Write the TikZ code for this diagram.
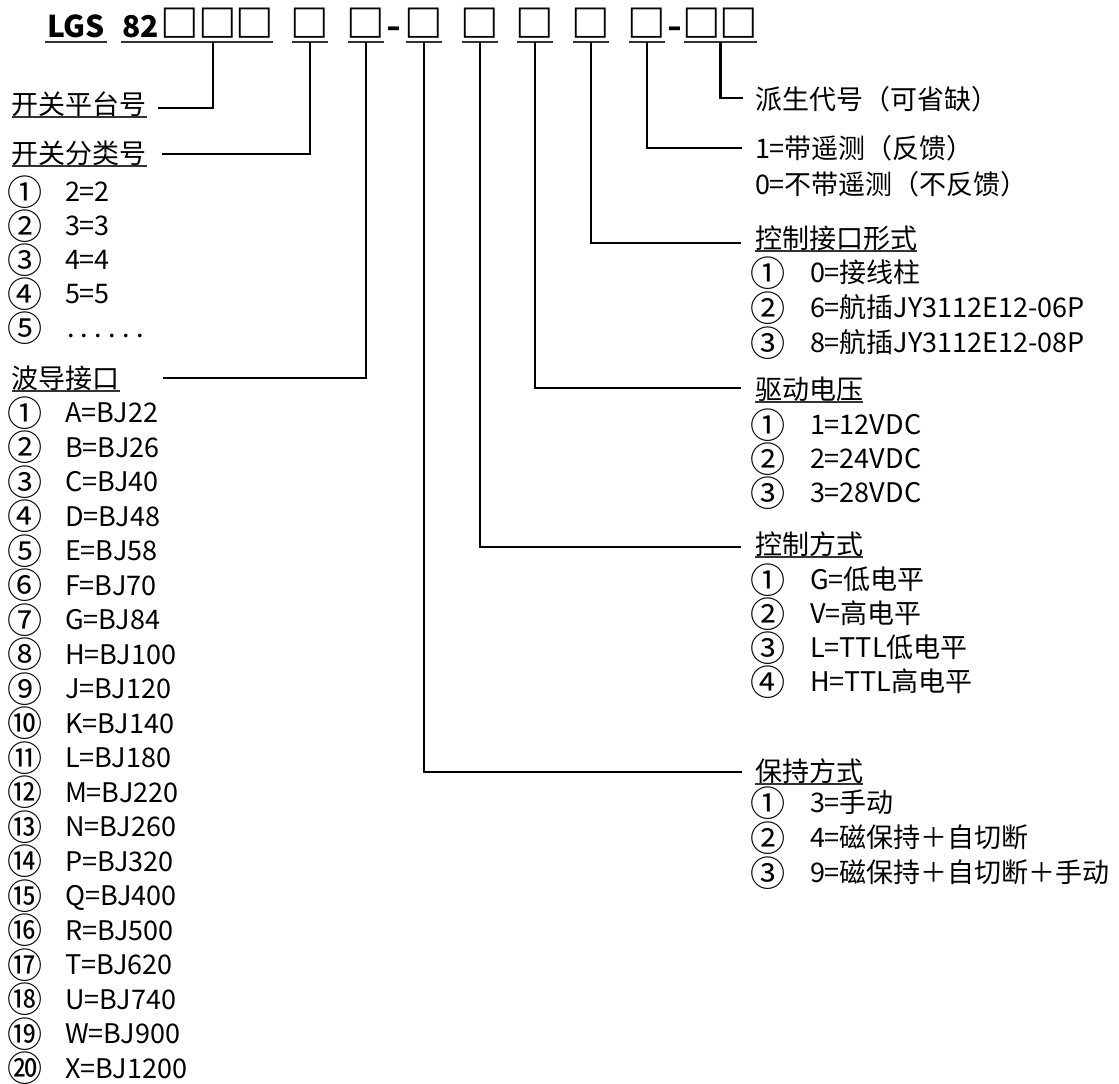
\documentclass[tikz,border=0pt]{standalone}
\usepackage{fontspec}
\setmainfont{Noto Sans CJK SC}
\usetikzlibrary{calc}
\begin{document}
\begin{tikzpicture}[x=1pt,y=-1pt,
  every node/.style={inner sep=0pt,outer sep=0pt},
  body/.style={font=\fontsize{27}{27}\selectfont},
  lbl/.style={body,anchor=base west},
  circ/.style={body,anchor=center},
  ttl/.style={font=\fontsize{30}{30}\selectfont\bfseries,anchor=base west},
  bx/.style={font=\fontsize{36}{36}\selectfont\bfseries,anchor=base,text depth=5pt},
  conn/.style={line width=2.6pt},
  ul/.style={line width=1.5pt,draw=black!80}]
\useasboundingbox (0,0) rectangle (1119,1084);
\newcommand\cnum[1]{\scalebox{1.3}{#1}}
% ---------- header code ----------
\node[ttl] (lgs) at (47,37) {LGS};
\node[ttl] (n82) at (122,37) {82};
\foreach \n/\x in {1/180,2/218,3/255,4/310,5/366,6/424,7/480,8/535,9/591,10/647,11/702,12/739}
  \node[bx] (b\n) at (\x,37) {\makebox[30pt]{\scalebox{1.07}[1.05]{□}}};
\node[ttl,anchor=base] (d1) at (394,37) {\scalebox{1.3}[1]{-}};
\node[ttl,anchor=base] (d2) at (675,37) {\scalebox{1.3}[1]{-}};
\draw[ul] ([xshift=-2pt,yshift=-5pt]lgs.base west) -- ([xshift=2pt,yshift=-5pt]lgs.base east);
\draw[ul] ([xshift=-1pt,yshift=-5pt]n82.base west) -- ([xshift=3pt,yshift=-5pt]b3.base east);
\foreach \n in {4,5,6,7,8,9,10}
  \draw[ul] ([xshift=-3pt,yshift=-5pt]b\n.base west) -- ([xshift=3pt,yshift=-5pt]b\n.base east);
\draw[ul] ([xshift=-3pt,yshift=-5pt]b11.base west) -- ([xshift=3pt,yshift=-5pt]b12.base east);
% ---------- left labels ----------
\node[lbl] (h1) at (12,114.5) {开关平台号};
\node[lbl] (h2) at (12,163.5) {开关分类号};
\node[lbl] (h3) at (12,388.5) {波导接口};
\foreach \h in {h1,h2,h3}
  \draw[ul] ([yshift=-2.5pt]\h.base west) -- ([yshift=-2.5pt]\h.base east);
\foreach \c/\t [count=\i from 0] in {①/2=2,②/3=3,③/4=4,④/5=5}{
  \pgfmathsetmacro\yy{192+34*\i}
  \node[circ] (kc\i) at (25,\yy) {\cnum{\c}};
  \node[lbl] (k\i) at (65,\yy+9.5) {\t};
}
\node[circ] (kc4) at (25,328) {\cnum{⑤}};
\node[lbl] (k4) at (67,337.5) {\addfontfeatures{LetterSpace=24}......};
\foreach \c/\t [count=\i from 0] in {①/A=BJ22,②/B=BJ26,③/C=BJ40,④/D=BJ48,⑤/E=BJ58,⑥/F=BJ70,⑦/G=BJ84,⑧/H=BJ100,⑨/J=BJ120,⑩/K=BJ140,⑪/L=BJ180,⑫/M=BJ220,⑬/N=BJ260,⑭/P=BJ320,⑮/Q=BJ400,⑯/R=BJ500,⑰/T=BJ620,⑱/U=BJ740,⑲/W=BJ900,⑳/X=BJ1200}{
  \pgfmathsetmacro\yy{413+34.5*\i}
  \node[circ] (wc\i) at (25,\yy) {\cnum{\c}};
  \node[lbl] (w\i) at (65,\yy+9.5) {\t};
}
% ---------- right labels ----------
\node[lbl] (r1) at (755,109.5) {派生代号（可省缺）};
\node[lbl] (r2) at (755,158.5) {1=带遥测（反馈）};
\node[lbl] (r2b) at (755,194.5) {0=不带遥测（不反馈）};
\node[lbl] (h4) at (755,248.5) {控制接口形式};
\node[lbl] (h5) at (755,399.5) {驱动电压};
\node[lbl] (h6) at (755,554.5) {控制方式};
\node[lbl] (h7) at (755,781.5) {保持方式};
\foreach \h in {h4,h5,h6,h7}
  \draw[ul] ([yshift=-2.5pt]\h.base west) -- ([yshift=-2.5pt]\h.base east);
\foreach \c/\t/\y [count=\i] in {①/0=接线柱/273,②/6=航插JY3112E12-06P/308,③/8=航插JY3112E12-08P/343,
  ①/1=12VDC/425,②/2=24VDC/459,③/3=28VDC/493,
  ①/G=低电平/580,②/V=高电平/614,③/L=TTL低电平/648,④/H=TTL高电平/682,
  ①/3=手动/803,②/4=磁保持＋自切断/838,③/9=磁保持＋自切断＋手动/873}{
  \node[circ] (rc\i) at (768,\y) {\cnum{\c}};
  \node[lbl] (ri\i) at (810,\y+9.5) {\t};
}
% ---------- connectors ----------
\coordinate (e1) at (158,108);
\coordinate (e2) at (162,154);
\coordinate (e3) at (163,378);
\coordinate (e6) at (742,772);
\coordinate (e7) at (741,547);
\coordinate (e8) at (741,388);
\coordinate (e9) at (741,243);
\coordinate (e10) at (742,148);
\coordinate (e11) at (743,98);
\draw[conn] ([xshift=-5pt]b2.south) |- (e1);
\draw[conn] (b4.south) |- (e2);
\draw[conn] (b5.south) |- (e3);
\draw[conn] (b6.south) |- (e6);
\draw[conn] (b7.south) |- (e7);
\draw[conn] (b8.south) |- (e8);
\draw[conn] (b9.south) |- (e9);
\draw[conn] (b10.south) |- (e10);
\draw[conn] ($(b11.south)!0.5!(b12.south)$) |- (e11);
\end{tikzpicture}
\end{document}
